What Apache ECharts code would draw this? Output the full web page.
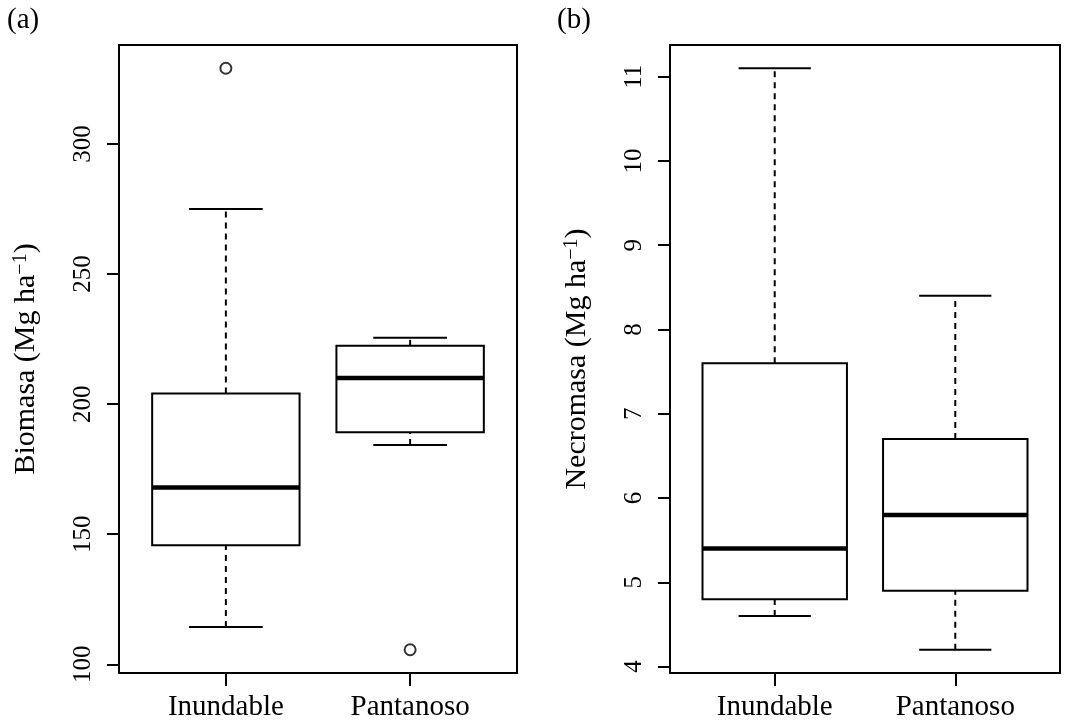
<!DOCTYPE html>
<html>
<head>
<meta charset="utf-8">
<script src="https://cdn.jsdelivr.net/npm/echarts@6/dist/echarts.min.js"></script>
<style>
  html, body { margin: 0; padding: 0; background: #fff; }
  #chart { width: 1072px; height: 726px; }
</style>
</head>
<body>
<div id="chart"></div>
<script>
var groups = ['Inundable', 'Pantanoso'];

// five-number summaries: lower whisker, Q1, median, Q3, upper whisker
var biomasaStats = [
    [114.3, 145.8, 168.0, 204.1, 275.0],
    [184.3, 189.2, 210.0, 222.4, 225.5]
];
var biomasaOutliers = [[329.1], [105.6]];
var biomasaTicks = [100, 150, 200, 250, 300];

var necromasaStats = [
    [4.6, 4.8, 5.4, 7.6, 11.1],
    [4.2, 4.9, 5.8, 6.7, 8.4]
];
var necromasaOutliers = [[], []];
var necromasaTicks = [4, 5, 6, 7, 8, 9, 10, 11];

var font = 'Liberation Serif';

// R style range: data range extended by 4% on each side
function rRange(stats, outliers) {
    var all = [];
    stats.forEach(function (s) { all = all.concat(s); });
    outliers.forEach(function (o) { all = all.concat(o); });
    var lo = Math.min.apply(null, all), hi = Math.max.apply(null, all);
    var pad = (hi - lo) * 0.04;
    return [lo - pad, hi + pad];
}

function boxData(stats) {
    return stats.map(function (s, i) { return [i + 1].concat(s); });
}

function outlierData(outliers) {
    var out = [];
    outliers.forEach(function (o, i) {
        o.forEach(function (v) { out.push([i + 1, v]); });
    });
    return out;
}

function renderBox(params, api) {
    var x = api.value(0);
    var lo = api.coord([x, api.value(1)]);
    var q1 = api.coord([x, api.value(2)]);
    var md = api.coord([x, api.value(3)]);
    var q3 = api.coord([x, api.value(4)]);
    var hi = api.coord([x, api.value(5)]);
    var boxW = api.size([0.8, 0])[0];
    var capW = api.size([0.4, 0])[0];
    var cx = md[0];
    var solid = { stroke: '#000', lineWidth: 2 };
    var dashed = { stroke: '#000', lineWidth: 2, lineDash: [6, 5] };
    return {
        type: 'group',
        children: [
            { type: 'line', shape: { x1: cx, y1: lo[1], x2: cx, y2: q1[1] }, style: dashed },
            { type: 'line', shape: { x1: cx, y1: q3[1], x2: cx, y2: hi[1] }, style: dashed },
            { type: 'line', shape: { x1: cx - capW / 2, y1: lo[1], x2: cx + capW / 2, y2: lo[1] }, style: solid },
            { type: 'line', shape: { x1: cx - capW / 2, y1: hi[1], x2: cx + capW / 2, y2: hi[1] }, style: solid },
            { type: 'rect', shape: { x: cx - boxW / 2, y: q3[1], width: boxW, height: q1[1] - q3[1] },
              style: { fill: '#fff', stroke: '#000', lineWidth: 2 } },
            { type: 'line', shape: { x1: cx - boxW / 2, y1: md[1], x2: cx + boxW / 2, y2: md[1] },
              style: { stroke: '#000', lineWidth: 4.5 } }
        ]
    };
}

function makeX(idx) {
    return {
        type: 'value', gridIndex: idx, min: 0.42, max: 2.58,
        axisLine: { show: false },
        splitLine: { show: false },
        axisTick: { show: true, length: 13, customValues: [1, 2], lineStyle: { color: '#000', width: 2 } },
        axisLabel: {
            customValues: [1, 2], margin: 20,
            color: '#000', fontFamily: font, fontSize: 29,
            formatter: function (v) { return groups[Math.round(v) - 1]; }
        }
    };
}

function makeY(idx, range, ticks, title) {
    return {
        type: 'value', gridIndex: idx, min: range[0], max: range[1],
        axisLine: { show: false },
        splitLine: { show: false },
        axisTick: { show: true, length: 12, customValues: ticks, lineStyle: { color: '#000', width: 2 } },
        axisLabel: {
            customValues: ticks, rotate: 90, margin: 23,
            color: '#000', fontFamily: font, fontSize: 25
        },
        name: title + ' (Mg ha{sup|\u22121})',
        nameLocation: 'middle', nameRotate: 90, nameGap: 78,
        nameTextStyle: {
            color: '#000', fontFamily: font, fontSize: 30,
            rich: { sup: { color: '#000', fontFamily: font, fontSize: 20, verticalAlign: 'top' } }
        }
    };
}

var chart = echarts.init(document.getElementById('chart'));

var option = {
    backgroundColor: '#fff',
    animation: false,
    grid: [
        { left: 119, width: 398, top: 45, bottom: 53, show: true, borderColor: '#000', borderWidth: 2, backgroundColor: 'transparent' },
        { left: 670, width: 390, top: 45, bottom: 53, show: true, borderColor: '#000', borderWidth: 2, backgroundColor: 'transparent' }
    ],
    xAxis: [makeX(0), makeX(1)],
    yAxis: [
        makeY(0, rRange(biomasaStats, biomasaOutliers), biomasaTicks, 'Biomasa'),
        makeY(1, rRange(necromasaStats, necromasaOutliers), necromasaTicks, 'Necromasa')
    ],
    graphic: [
        { type: 'text', left: 7, top: 6, style: { text: '(a)', font: '29px "Liberation Serif"', fill: '#000' } },
        { type: 'text', left: 557, top: 6, style: { text: '(b)', font: '29px "Liberation Serif"', fill: '#000' } }
    ],
    series: [
        {
            type: 'custom', xAxisIndex: 0, yAxisIndex: 0,
            renderItem: renderBox, encode: { x: 0, y: [1, 2, 3, 4, 5] },
            data: boxData(biomasaStats)
        },
        {
            type: 'scatter', xAxisIndex: 0, yAxisIndex: 0,
            symbol: 'circle', symbolSize: 11,
            itemStyle: { color: '#fff', borderColor: '#000', borderWidth: 2 },
            data: outlierData(biomasaOutliers)
        },
        {
            type: 'custom', xAxisIndex: 1, yAxisIndex: 1,
            renderItem: renderBox, encode: { x: 0, y: [1, 2, 3, 4, 5] },
            data: boxData(necromasaStats)
        },
        {
            type: 'scatter', xAxisIndex: 1, yAxisIndex: 1,
            symbol: 'circle', symbolSize: 11,
            itemStyle: { color: '#fff', borderColor: '#000', borderWidth: 2 },
            data: outlierData(necromasaOutliers)
        }
    ]
};

chart.setOption(option);
</script>
</body>
</html>
